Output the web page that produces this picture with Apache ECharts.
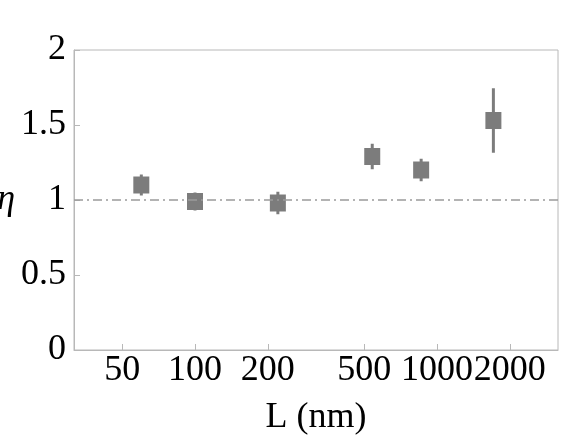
<!DOCTYPE html>
<html>
<head>
<meta charset="utf-8">
<script src="https://cdn.jsdelivr.net/npm/echarts@6/dist/echarts.min.js"></script>
<style>
  html, body { margin: 0; padding: 0; background: #fff; }
  #chart { width: 571px; height: 436px; }
</style>
</head>
<body>
<div id="chart"></div>
<script>
// lengths (nm) and eta values
var lengths = [60, 100, 220, 540, 860, 1710];
var eta = [1.10, 0.99, 0.98, 1.29, 1.20, 1.53];
var etaErr = [0.07, 0.06, 0.075, 0.085, 0.075, 0.215];
var xTicks = [50, 100, 200, 500, 1000, 2000];
var yTicks = [0, 0.5, 1, 1.5, 2];

var gray = "#7c7c7c";
var font = "'Liberation Serif', 'DejaVu Serif', serif";

var points = lengths.map(function (l, i) { return [Math.log10(l), eta[i]]; });
var bars = lengths.map(function (l, i) {
  return [Math.log10(l), eta[i] - etaErr[i], eta[i] + etaErr[i]];
});
var logTicks = xTicks.map(function (t) { return Math.log10(t); });

var myChart = echarts.init(document.getElementById("chart"));

var option = {
  animation: false,
  grid: {
    left: 74, right: 13, top: 50, bottom: 86,
    outerBoundsMode: "none",
    containLabel: false,
    show: true, borderColor: "#b8b8b8", borderWidth: 1
  },
  xAxis: {
    type: "value",
    min: 1.5,
    max: 3.5,
    name: "L (nm)",
    nameLocation: "middle",
    nameGap: 50,
    nameTextStyle: { fontFamily: font, fontSize: 36, color: "#000" },
    axisLine: { show: true, lineStyle: { color: "#b8b8b8" } },
    axisTick: { show: true, inside: true, length: 6, customValues: logTicks, lineStyle: { color: "#b8b8b8" } },
    axisLabel: {
      customValues: logTicks,
      fontFamily: font, fontSize: 36, color: "#000", margin: 3,
      formatter: function (v) { return String(Math.round(Math.pow(10, v))); }
    },
    splitLine: { show: false }
  },
  yAxis: {
    type: "value",
    min: 0,
    max: 2,
    interval: 0.5,
    name: "η",
    nameLocation: "middle",
    nameRotate: 0,
    nameGap: 53,
    nameTextStyle: { fontFamily: font, fontSize: 36, fontStyle: "italic", color: "#000" },
    axisLine: { show: true, lineStyle: { color: "#b8b8b8" } },
    axisTick: { show: true, inside: true, length: 6, lineStyle: { color: "#b8b8b8" } },
    axisLabel: {
      fontFamily: font, fontSize: 36, color: "#000", margin: 8,
      formatter: function (v) { return yTicks.indexOf(v) >= 0 ? String(v) : ""; }
    },
    splitLine: { show: false }
  },
  series: [
    {
      type: "custom",
      data: bars,
      renderItem: function (params, api) {
        var top = api.coord([api.value(0), api.value(2)]);
        var bottom = api.coord([api.value(0), api.value(1)]);
        return {
          type: "line",
          shape: { x1: top[0], y1: top[1], x2: bottom[0], y2: bottom[1] },
          style: { stroke: gray, lineWidth: 3 }
        };
      },
      z: 2
    },
    {
      type: "scatter",
      data: points,
      symbol: "rect",
      symbolSize: [16, 17],
      itemStyle: { color: gray, opacity: 1 },
      z: 3,
      markLine: {
        silent: true,
        symbol: "none",
        label: { show: false },
        lineStyle: { color: "#9a9a9a", width: 1.5, type: [9, 4, 2, 4] },
        data: [{ yAxis: 1 }]
      }
    }
  ]
};

myChart.setOption(option);
</script>
</body>
</html>
